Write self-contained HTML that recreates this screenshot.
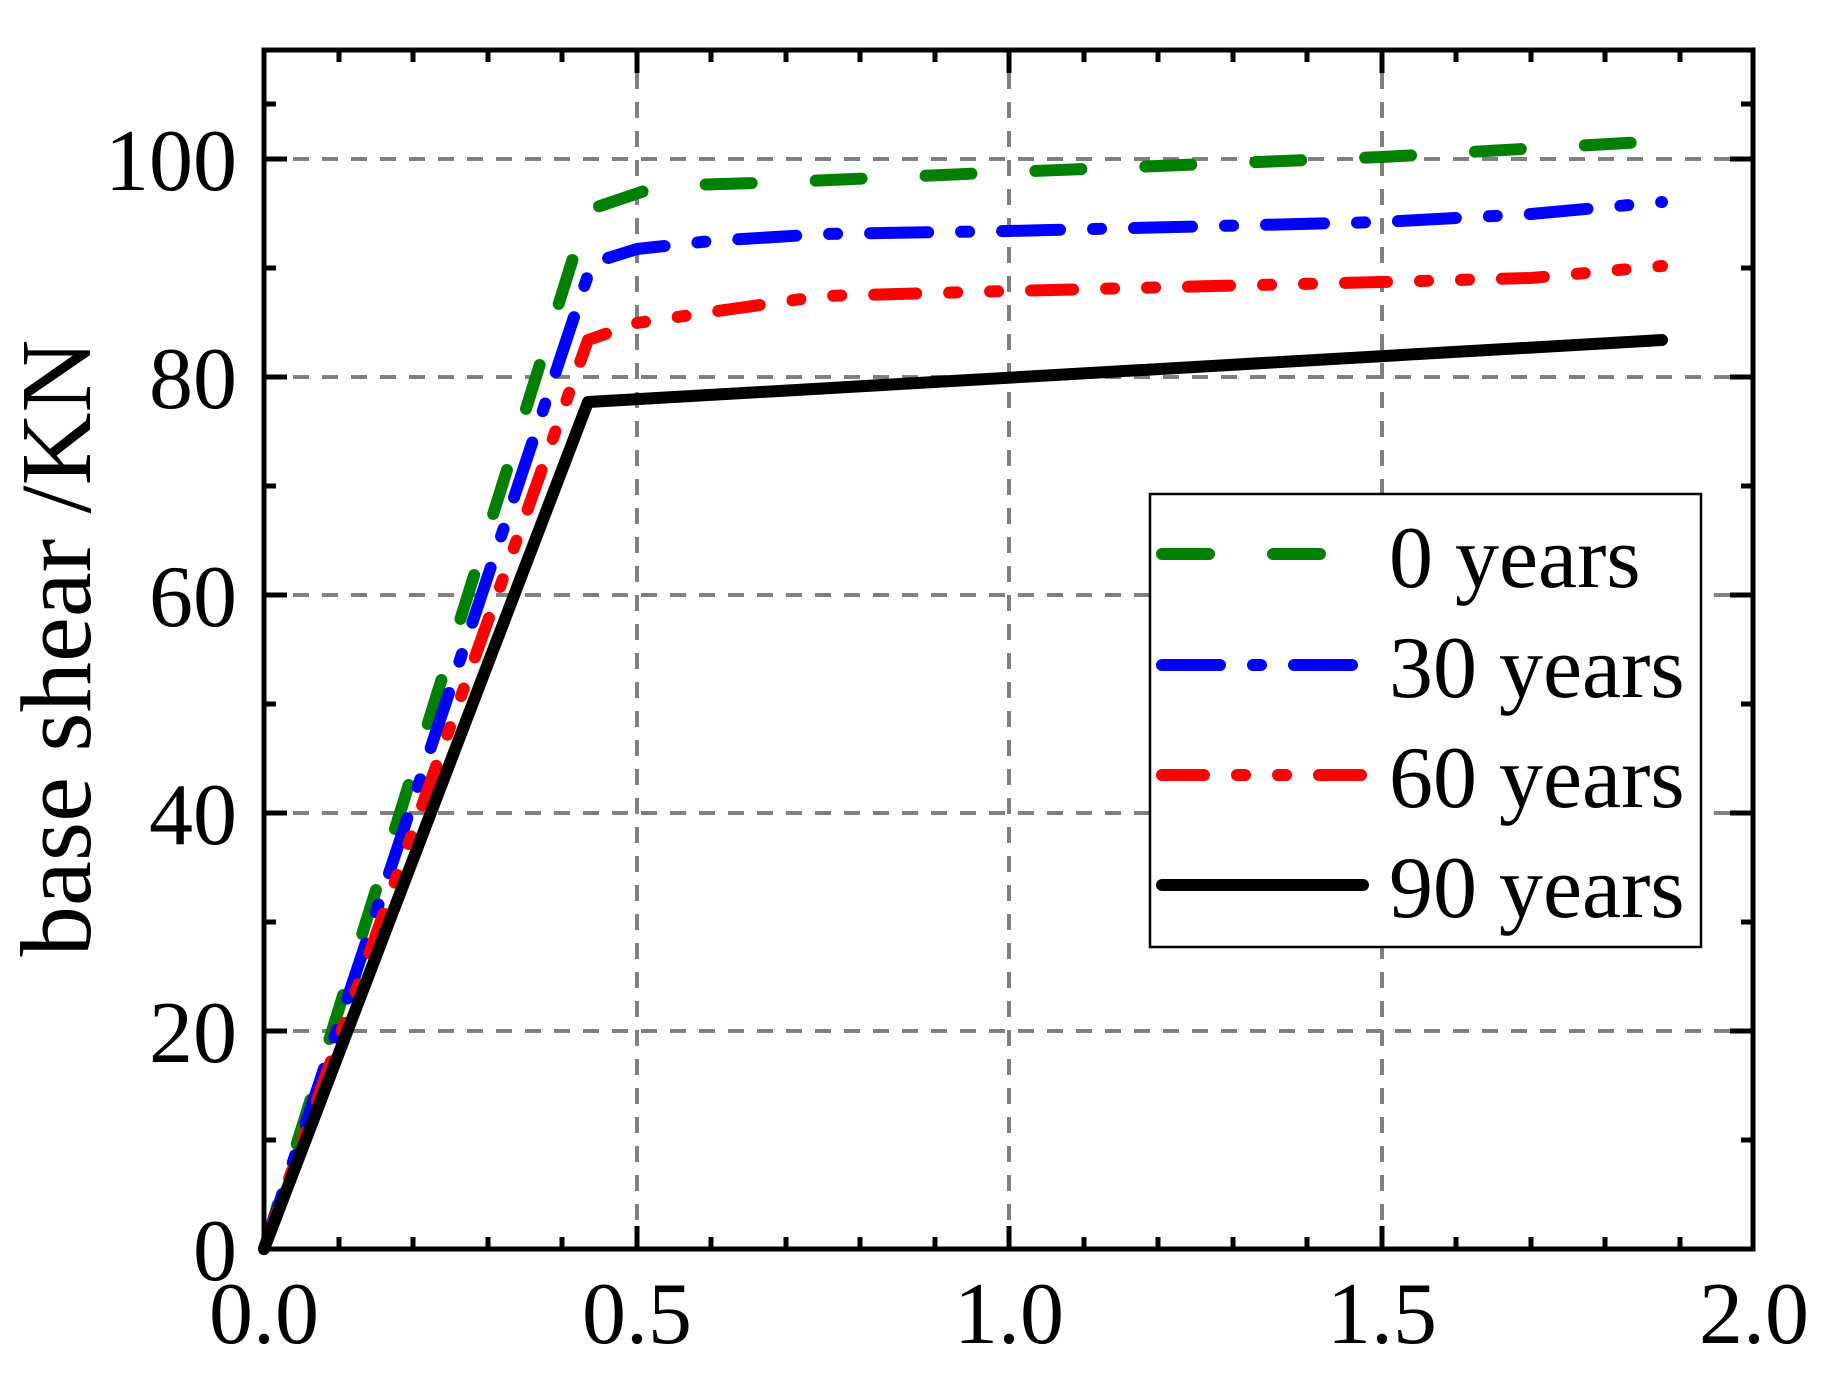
<!DOCTYPE html>
<html><head><meta charset="utf-8"><style>html,body{margin:0;padding:0;background:#fff}svg{display:block}</style></head>
<body>
<svg width="1832" height="1380" viewBox="0 0 1832 1380" xmlns="http://www.w3.org/2000/svg" font-family="'Liberation Serif', serif">
<rect width="1832" height="1380" fill="#fff"/>
<g stroke="#808080" stroke-width="4" stroke-dasharray="16,13" fill="none">
<line x1="264" y1="1031" x2="1753" y2="1031"/>
<line x1="264" y1="813" x2="1753" y2="813"/>
<line x1="264" y1="595" x2="1753" y2="595"/>
<line x1="264" y1="377" x2="1753" y2="377"/>
<line x1="264" y1="159" x2="1753" y2="159"/>
<line x1="637" y1="1249" x2="637" y2="50"/>
<line x1="1009" y1="1249" x2="1009" y2="50"/>
<line x1="1382" y1="1249" x2="1382" y2="50"/>
</g>
<g fill="none" stroke-width="12" stroke-linecap="round" stroke-linejoin="round">
<polyline stroke="#008000" stroke-dasharray="46,64" points="264,1249 588,210 659,186 786,182 1009,172 1382,157 1662,141"/>
<polyline stroke="#0000ff" stroke-dasharray="58,33,8,33" points="264,1249 592,263 637,249 711,241 823,234 1009,231 1382,222 1531,214 1662,202"/>
<polyline stroke="#ff0000" stroke-dasharray="42,33,8,33,8,33" points="264,1249 588,340 637,323 711,312 823,296 1009,291 1382,282 1531,278 1662,266"/>
<polyline stroke="#000" points="264,1249 588,402 1662,340"/>
</g>
<rect x="1150" y="494" width="551" height="453" fill="#fff" stroke="#000" stroke-width="2.5"/>
<g fill="none" stroke-width="12" stroke-linecap="round">
<line x1="1162" y1="554" x2="1326" y2="554" stroke="#008000" stroke-dasharray="47,64"/>
<line x1="1162" y1="665" x2="1363" y2="665" stroke="#0000ff" stroke-dasharray="58,33,8,33"/>
<line x1="1162" y1="775" x2="1363" y2="775" stroke="#ff0000" stroke-dasharray="42,33,8,33,8,33"/>
<line x1="1162" y1="885" x2="1363" y2="885" stroke="#000"/>
</g>
<g font-size="88" fill="#000">
<text x="1389" y="587">0 years</text>
<text x="1389" y="697">30 years</text>
<text x="1389" y="807">60 years</text>
<text x="1389" y="917">90 years</text>
</g>
<rect x="264" y="50" width="1489" height="1199" fill="none" stroke="#000" stroke-width="5"/>
<g stroke="#000" stroke-width="5">
<path d="M264 1249h23M264 1031h23M264 813h23M264 595h23M264 377h23M264 159h23
M1753 1249h-23M1753 1031h-23M1753 813h-23M1753 595h-23M1753 377h-23M1753 159h-23"/>
<path d="M264 1140h12M264 922h12M264 704h12M264 486h12M264 268h12M264 104h12
M1753 1140h-12M1753 922h-12M1753 704h-12M1753 486h-12M1753 268h-12M1753 104h-12"/>
<path d="M264 1249v-23M637 1249v-23M1009 1249v-23M1382 1249v-23M1753 1249v-23
M264 50v23M637 50v23M1009 50v23M1382 50v23M1753 50v23"/>
<path d="M339 1249v-12M413 1249v-12M488 1249v-12M562 1249v-12M711 1249v-12M786 1249v-12M860 1249v-12M935 1249v-12M1084 1249v-12M1158 1249v-12M1233 1249v-12M1307 1249v-12M1456 1249v-12M1531 1249v-12M1605 1249v-12M1680 1249v-12
M339 50v12M413 50v12M488 50v12M562 50v12M711 50v12M786 50v12M860 50v12M935 50v12M1084 50v12M1158 50v12M1233 50v12M1307 50v12M1456 50v12M1531 50v12M1605 50v12M1680 50v12"/>
</g>
<g font-size="88" fill="#000" text-anchor="end">
<text x="237" y="1280">0</text>
<text x="237" y="1062">20</text>
<text x="237" y="844">40</text>
<text x="237" y="626">60</text>
<text x="237" y="408">80</text>
<text x="237" y="190">100</text>
</g>
<g font-size="88" fill="#000" text-anchor="middle">
<text x="264" y="1343">0.0</text>
<text x="637" y="1343">0.5</text>
<text x="1009" y="1343">1.0</text>
<text x="1382" y="1343">1.5</text>
<text x="1754" y="1343">2.0</text>
</g>
<text transform="translate(90,648) rotate(-90)" font-size="101" text-anchor="middle" fill="#000">base shear /KN</text>
</svg>
</body></html>
